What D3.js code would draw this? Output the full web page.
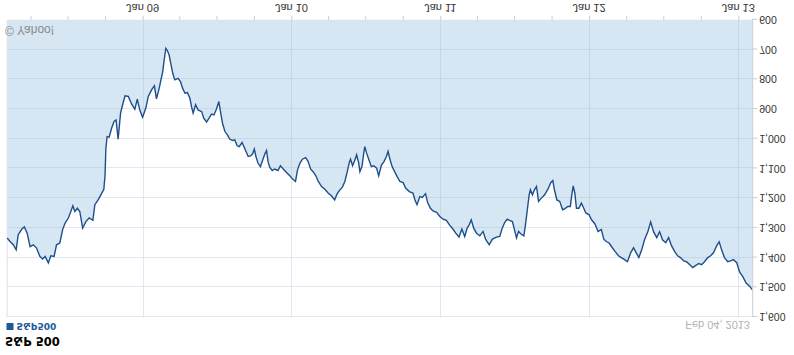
<!DOCTYPE html>
<html>
<head>
<meta charset="utf-8">
<script src="https://cdn.jsdelivr.net/npm/d3@7/dist/d3.min.js"></script>
<style>
  body { margin: 0; background: #fff; }
  /* the reference picture is upside down, so the whole drawing is flipped */
  svg { display: block; transform: scaleY(-1); }
</style>
</head>
<body>
<svg width="794" height="355"></svg>
<script>
var dates = [
  "2008-02-04","2008-02-11","2008-02-19","2008-02-26","2008-03-02","2008-03-11","2008-03-17","2008-03-24","2008-03-31","2008-04-08",
  "2008-04-16","2008-04-24","2008-05-01","2008-05-07","2008-05-15","2008-05-21","2008-05-29","2008-06-04","2008-06-12","2008-06-19",
  "2008-06-25","2008-07-03","2008-07-09","2008-07-14","2008-07-19","2008-07-25","2008-07-31","2008-08-07","2008-08-15","2008-08-23",
  "2008-09-01","2008-09-06","2008-09-14","2008-09-23","2008-09-28","2008-10-01","2008-10-03","2008-10-06","2008-10-11","2008-10-17",
  "2008-10-23","2008-10-28","2008-11-02","2008-11-08","2008-11-13","2008-11-19","2008-11-27","2008-12-05","2008-12-13","2008-12-19",
  "2008-12-25","2009-01-01","2009-01-09","2009-01-15","2009-01-23","2009-01-30","2009-02-04","2009-02-11","2009-02-15","2009-02-19",
  "2009-02-23","2009-02-27","2009-03-03","2009-03-07","2009-03-11","2009-03-16","2009-03-21","2009-03-29","2009-04-04","2009-04-09",
  "2009-04-15","2009-04-21","2009-04-27","2009-05-01","2009-05-05","2009-05-11","2009-05-17","2009-05-26","2009-05-31","2009-06-07",
  "2009-06-13","2009-06-19","2009-06-25","2009-07-01","2009-07-07","2009-07-11","2009-07-16","2009-07-22","2009-07-28","2009-08-03",
  "2009-08-10","2009-08-15","2009-08-21","2009-08-26","2009-09-02","2009-09-09","2009-09-17","2009-09-23","2009-09-28","2009-10-02",
  "2009-10-06","2009-10-11","2009-10-17","2009-10-22","2009-10-28","2009-11-01","2009-11-05","2009-11-09","2009-11-15","2009-11-21",
  "2009-11-29","2009-12-05","2009-12-12","2009-12-20","2009-12-28","2010-01-04","2010-01-11","2010-01-16","2010-01-22","2010-01-28",
  "2010-02-05","2010-02-11","2010-02-17","2010-02-23","2010-03-02","2010-03-08","2010-03-16","2010-03-24","2010-04-01","2010-04-09",
  "2010-04-17","2010-04-23","2010-04-29","2010-05-06","2010-05-12","2010-05-18","2010-05-23","2010-05-26","2010-05-31","2010-06-05",
  "2010-06-10","2010-06-15","2010-06-18","2010-06-23","2010-06-28","2010-06-30","2010-07-04","2010-07-10","2010-07-16","2010-07-22",
  "2010-07-29","2010-08-03","2010-08-10","2010-08-16","2010-08-22","2010-08-26","2010-08-30","2010-09-05","2010-09-11","2010-09-17",
  "2010-09-24","2010-10-02","2010-10-08","2010-10-17","2010-10-26","2010-10-31","2010-11-05","2010-11-12","2010-11-18","2010-11-26",
  "2010-12-01","2010-12-08","2010-12-14","2010-12-23","2010-12-31","2011-01-08","2011-01-16","2011-01-24","2011-02-01","2011-02-08",
  "2011-02-16","2011-02-23","2011-03-02","2011-03-08","2011-03-13","2011-03-18","2011-03-24","2011-03-31","2011-04-08","2011-04-16",
  "2011-04-22","2011-05-01","2011-05-09","2011-05-19","2011-05-27","2011-06-02","2011-06-08","2011-06-14","2011-06-20","2011-06-27",
  "2011-07-03","2011-07-07","2011-07-12","2011-07-17","2011-07-25","2011-07-29","2011-08-02","2011-08-07","2011-08-10","2011-08-15",
  "2011-08-20","2011-08-25","2011-08-30","2011-09-06","2011-09-14","2011-09-22","2011-09-29","2011-10-04","2011-10-08","2011-10-14",
  "2011-10-21","2011-10-28","2011-11-02","2011-11-10","2011-11-16","2011-11-19","2011-11-23","2011-11-27","2011-12-01","2011-12-07",
  "2011-12-13","2011-12-17","2011-12-24","2012-01-01","2012-01-07","2012-01-15","2012-01-23","2012-01-31","2012-02-06","2012-02-12",
  "2012-02-19","2012-02-27","2012-03-05","2012-03-13","2012-03-20","2012-03-28","2012-04-04","2012-04-12","2012-04-19","2012-04-24",
  "2012-05-02","2012-05-09","2012-05-16","2012-05-24","2012-05-31","2012-06-07","2012-06-15","2012-06-22","2012-06-29","2012-07-07",
  "2012-07-14","2012-07-21","2012-07-29","2012-08-05","2012-08-12","2012-08-20","2012-08-27","2012-09-04","2012-09-11","2012-09-18",
  "2012-09-26","2012-10-03","2012-10-10","2012-10-18","2012-10-25","2012-11-01","2012-11-09","2012-11-15","2012-11-21","2012-11-28",
  "2012-12-06","2012-12-13","2012-12-20","2012-12-28","2013-01-04","2013-01-12","2013-01-20","2013-01-29","2013-02-04"
];
var closes = [
  1334,1346,1357,1374,1323,1304,1297,1318,1363,1357,
  1368,1396,1405,1396,1418,1394,1396,1357,1351,1306,
  1284,1267,1245,1226,1245,1234,1245,1301,1279,1267,
  1275,1222,1206,1183,1170,1122,1032,993,995,965,
  942,937,1002,914,886,856,858,883,901,867,
  903,928,897,858,836,822,866,829,802,778,
  735,696,704,718,746,780,802,797,808,830,
  847,845,864,892,914,886,903,909,931,944,
  931,917,920,901,875,909,948,976,987,1002,
  1006,1004,1024,1027,1013,1035,1060,1058,1051,1035,
  1060,1082,1094,1074,1051,1040,1080,1097,1107,1102,
  1107,1091,1102,1114,1125,1136,1144,1105,1082,1069,
  1064,1077,1102,1111,1125,1144,1161,1170,1183,1192,
  1206,1186,1174,1163,1144,1111,1080,1069,1091,1074,
  1054,1082,1111,1094,1043,1027,1047,1071,1094,1091,
  1099,1125,1088,1077,1060,1043,1066,1094,1111,1127,
  1144,1148,1166,1178,1183,1206,1222,1195,1198,1185,
  1215,1234,1243,1248,1262,1271,1275,1291,1304,1318,
  1331,1304,1329,1301,1290,1273,1301,1318,1327,1312,
  1338,1357,1338,1331,1329,1301,1282,1271,1275,1279,
  1312,1334,1312,1320,1327,1290,1245,1189,1172,1189,
  1172,1161,1211,1200,1189,1170,1148,1141,1172,1206,
  1211,1239,1236,1228,1228,1195,1159,1183,1234,1234,
  1217,1228,1250,1256,1273,1286,1312,1306,1338,1346,
  1351,1367,1380,1394,1400,1407,1414,1384,1367,1380,
  1400,1374,1340,1313,1280,1313,1333,1313,1340,1350,
  1333,1360,1380,1394,1400,1411,1414,1424,1434,1427,
  1420,1424,1414,1400,1394,1384,1360,1347,1374,1400,
  1414,1411,1407,1417,1448,1464,1486,1497,1508
];
var yTicks = [600, 700, 800, 900, 1000, 1100, 1200, 1300, 1400, 1500, 1600];
var yearTicks = ["2009-01-01", "2010-01-01", "2011-01-01", "2012-01-01", "2013-01-01"];
var yearLabels = ["Jan 09", "Jan 10", "Jan 11", "Jan 12", "Jan 13"];
var chartTitle = "S&P 500", seriesName = "S&P500", lastLabel = "Feb 04, 2013", credit = "© Yahoo!";

var parse = d3.timeParse("%Y-%m-%d");
var data = dates.map(function (d, i) { return { date: parse(d), close: closes[i] }; });
var years = yearTicks.map(parse);

var svg = d3.select("svg");
var plotLeft = 6.7, plotRight = 751.7, plotTop = 38, plotBottom = 335.2;

var x = d3.scaleTime()
    .domain([parse(dates[0]), parse(dates[dates.length - 1])])
    .range([7.2, 752.2]);
var y = d3.scaleLinear()
    .domain([600, 1600])
    .range([plotBottom, plotTop]);

var area = d3.area()
    .x(function (d) { return x(d.date); })
    .y0(y(600))
    .y1(function (d) { return y(d.close); });
var line = d3.line()
    .x(function (d) { return x(d.date); })
    .y(function (d) { return y(d.close); });

svg.append("path")
    .datum(data)
    .attr("d", area)
    .attr("fill", "#d6e6f2");

// grid
svg.append("g").selectAll("line")
    .data(yTicks.slice(1))
    .join("line")
    .attr("x1", plotLeft).attr("x2", plotRight)
    .attr("y1", function (d) { return Math.round(y(d)) + 0.5; })
    .attr("y2", function (d) { return Math.round(y(d)) + 0.5; })
    .attr("stroke", "rgba(170,190,215,0.35)");
svg.append("g").selectAll("line")
    .data(years)
    .join("line")
    .attr("x1", function (d) { return Math.round(x(d)) + 0.5; })
    .attr("x2", function (d) { return Math.round(x(d)) + 0.5; })
    .attr("y1", plotTop).attr("y2", plotBottom)
    .attr("stroke", "rgba(170,190,215,0.35)");
svg.append("line")
    .attr("x1", plotLeft + 0.5).attr("x2", plotLeft + 0.5)
    .attr("y1", plotTop).attr("y2", plotBottom)
    .attr("stroke", "#dde3ea");

svg.append("path")
    .datum(data)
    .attr("d", line)
    .attr("fill", "none")
    .attr("stroke", "#1d4f8b")
    .attr("stroke-width", 1.4);

// x axis (quarter ticks, labels on January)
var xAxis = d3.axisBottom(x)
    .tickValues(d3.timeMonth.every(3).range(x.domain()[0], x.domain()[1]))
    .tickSize(4)
    .tickSizeOuter(0)
    .tickFormat("");
var gx = svg.append("g")
    .attr("transform", "translate(0," + plotBottom + ")")
    .call(xAxis);
gx.select(".domain").remove();
gx.selectAll(".tick line").attr("stroke", "#c8ccd2");

svg.append("g").selectAll("text")
    .data(years)
    .join("text")
    .attr("x", function (d) { return x(d); })
    .attr("y", 346.7)
    .attr("dy", "0.35em")
    .attr("text-anchor", "middle")
    .attr("font-family", "Liberation Sans, Arial, sans-serif")
    .attr("font-size", "11px")
    .attr("fill", "#333")
    .text(function (d, i) { return yearLabels[i]; });

// y axis on the right
var yAxis = d3.axisRight(y)
    .tickValues(yTicks)
    .tickSize(5)
    .tickPadding(2)
    .tickSizeOuter(0)
    .tickFormat(d3.format(","));
var gy = svg.append("g")
    .attr("transform", "translate(" + (plotRight + 0.5) + ",0)")
    .call(yAxis);
gy.select(".domain").attr("stroke", "#c8ccd2");
gy.selectAll(".tick line").attr("stroke", "#c8ccd2");
gy.selectAll(".tick text")
    .attr("font-family", "Liberation Sans, Arial, sans-serif")
    .attr("font-size", "10.5px")
    .attr("fill", "#333");

// texts
svg.append("text")
    .attr("x", 5).attr("y", 14).attr("dy", "0.35em")
    .attr("font-family", "DejaVu Sans, sans-serif")
    .attr("font-weight", "bold")
    .attr("font-size", "11.5px")
    .attr("fill", "#000")
    .text(chartTitle);

svg.append("rect")
    .attr("x", 6.5).attr("y", 25).attr("width", 7).attr("height", 7)
    .attr("fill", "#1f5a96");
svg.append("text")
    .attr("x", 16.5).attr("y", 28.5).attr("dy", "0.35em")
    .attr("font-family", "DejaVu Sans, sans-serif")
    .attr("font-weight", "bold")
    .attr("font-size", "9px")
    .attr("fill", "#22599a")
    .text(seriesName);

svg.append("text")
    .attr("x", 750).attr("y", 30).attr("dy", "0.35em")
    .attr("text-anchor", "end")
    .attr("font-family", "Liberation Sans, Arial, sans-serif")
    .attr("font-size", "11px")
    .attr("fill", "#b3b3b3")
    .text(lastLabel);

svg.append("text")
    .attr("x", 5).attr("y", 325).attr("dy", "0.35em")
    .attr("font-family", "Liberation Sans, Arial, sans-serif")
    .attr("font-size", "12px")
    .attr("fill", "#8a8a8a")
    .text(credit);
</script>
</body>
</html>
